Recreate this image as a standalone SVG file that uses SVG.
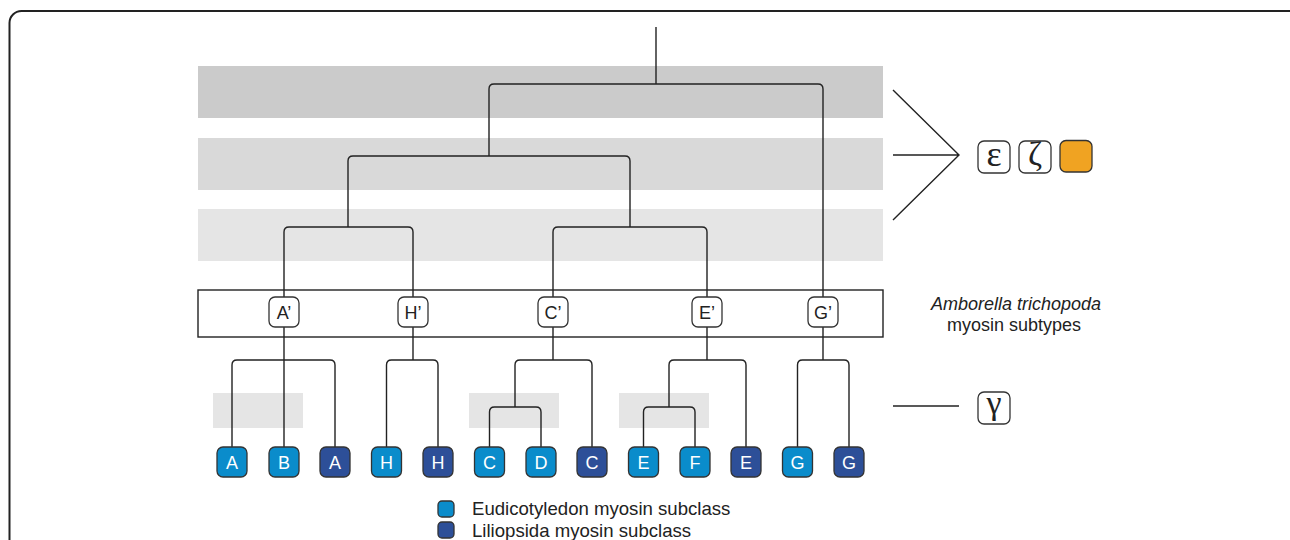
<svg xmlns="http://www.w3.org/2000/svg" width="1290" height="540" viewBox="0 0 1290 540">
<style>
.t{font-family:"Liberation Sans",Arial,sans-serif;}
.ln{fill:none;stroke:#222;stroke-width:1.4;}
.sub{fill:#fff;stroke:#333;stroke-width:1.3;}
.lb{fill:#0a8ccb;stroke:#333;stroke-width:1.3;}
.db{fill:#2d4f98;stroke:#333;stroke-width:1.3;}
.lt{font-family:"Liberation Sans",Arial,sans-serif;font-size:18px;fill:#fff;text-anchor:middle;}
.st{font-family:"Liberation Sans",Arial,sans-serif;font-size:18px;fill:#222;text-anchor:middle;}
.gk{font-family:"Liberation Serif","Times New Roman",serif;fill:#222;text-anchor:middle;}
</style>
<rect x="0" y="0" width="1290" height="540" fill="#fff"/>
<rect x="9.5" y="11" width="1292" height="570" rx="12" fill="none" stroke="#222" stroke-width="2"/>
<g id="bands">
<rect x="198" y="66" width="685" height="52" fill="#cbcbcb"/>
<rect x="198" y="138" width="685" height="52" fill="#d9d9d9"/>
<rect x="198" y="209" width="685" height="52" fill="#e5e5e5"/>
<rect x="213" y="393" width="90" height="35" fill="#e5e5e5"/>
<rect x="469" y="393" width="90" height="35" fill="#e5e5e5"/>
<rect x="619" y="393" width="90" height="35" fill="#e5e5e5"/>
</g>
<rect id="subtype-box" x="198" y="290" width="685" height="47" fill="none" stroke="#222" stroke-width="1.4"/>
<g id="connectors">
<path class="ln" d="M656 27 V84"/>
<path class="ln" d="M489 156 V89 Q489 84 494 84 H818 Q823 84 823 89 V297"/>
<path class="ln" d="M348 227 V161 Q348 156 353 156 H625 Q630 156 630 161 V227"/>
<path class="ln" d="M284 297 V232 Q284 227 289 227 H408 Q413 227 413 232 V297"/>
<path class="ln" d="M553 297 V232 Q553 227 558 227 H702 Q707 227 707 232 V297"/>
<path class="ln" d="M284 327 V447"/>
<path class="ln" d="M232 447 V365 Q232 360 237 360 H330 Q335 360 335 365 V447"/>
<path class="ln" d="M413 327 V360"/>
<path class="ln" d="M386.5 447 V365 Q386.5 360 391.5 360 H433 Q438 360 438 365 V447"/>
<path class="ln" d="M553 327 V360"/>
<path class="ln" d="M515 407 V365 Q515 360 520 360 H587 Q592 360 592 365 V447"/>
<path class="ln" d="M489.5 447 V412 Q489.5 407 494.5 407 H536 Q541 407 541 412 V447"/>
<path class="ln" d="M707 327 V360"/>
<path class="ln" d="M669 407 V365 Q669 360 674 360 H741 Q746 360 746 365 V447"/>
<path class="ln" d="M643.5 447 V412 Q643.5 407 648.5 407 H690 Q695 407 695 412 V447"/>
<path class="ln" d="M823 327 V360"/>
<path class="ln" d="M797.5 447 V365 Q797.5 360 802.5 360 H844 Q849 360 849 365 V447"/>
<path class="ln" d="M893 90 L959 155 L893 220 M893 155 H959"/>
<path class="ln" d="M893 406 H959"/>
</g>
<g id="node-A1"><rect class="sub" x="269" y="297" width="30" height="30" rx="6"/><text class="st" x="284" y="318.5">A’</text></g>
<g id="node-H1"><rect class="sub" x="398" y="297" width="30" height="30" rx="6"/><text class="st" x="413" y="318.5">H’</text></g>
<g id="node-C1"><rect class="sub" x="538" y="297" width="30" height="30" rx="6"/><text class="st" x="553" y="318.5">C’</text></g>
<g id="node-E1"><rect class="sub" x="692" y="297" width="30" height="30" rx="6"/><text class="st" x="707" y="318.5">E’</text></g>
<g id="node-G1"><rect class="sub" x="808" y="297" width="30" height="30" rx="6"/><text class="st" x="823" y="318.5">G’</text></g>
<g id="leaf-A-eu"><rect class="lb" x="217" y="447" width="30" height="30" rx="6"/><text class="lt" x="232" y="468.5">A</text></g>
<g id="leaf-B-eu"><rect class="lb" x="269" y="447" width="30" height="30" rx="6"/><text class="lt" x="284" y="468.5">B</text></g>
<g id="leaf-A-li"><rect class="db" x="320" y="447" width="30" height="30" rx="6"/><text class="lt" x="335" y="468.5">A</text></g>
<g id="leaf-H-eu"><rect class="lb" x="371.5" y="447" width="30" height="30" rx="6"/><text class="lt" x="386.5" y="468.5">H</text></g>
<g id="leaf-H-li"><rect class="db" x="423" y="447" width="30" height="30" rx="6"/><text class="lt" x="438" y="468.5">H</text></g>
<g id="leaf-C-eu"><rect class="lb" x="474.5" y="447" width="30" height="30" rx="6"/><text class="lt" x="489.5" y="468.5">C</text></g>
<g id="leaf-D-eu"><rect class="lb" x="526" y="447" width="30" height="30" rx="6"/><text class="lt" x="541" y="468.5">D</text></g>
<g id="leaf-C-li"><rect class="db" x="577" y="447" width="30" height="30" rx="6"/><text class="lt" x="592" y="468.5">C</text></g>
<g id="leaf-E-eu"><rect class="lb" x="628.5" y="447" width="30" height="30" rx="6"/><text class="lt" x="643.5" y="468.5">E</text></g>
<g id="leaf-F-eu"><rect class="lb" x="680" y="447" width="30" height="30" rx="6"/><text class="lt" x="695" y="468.5">F</text></g>
<g id="leaf-E-li"><rect class="db" x="731" y="447" width="30" height="30" rx="6"/><text class="lt" x="746" y="468.5">E</text></g>
<g id="leaf-G-eu"><rect class="lb" x="782.5" y="447" width="30" height="30" rx="6"/><text class="lt" x="797.5" y="468.5">G</text></g>
<g id="leaf-G-li"><rect class="db" x="834" y="447" width="30" height="30" rx="6"/><text class="lt" x="849" y="468.5">G</text></g>
<g id="label-amborella">
<text class="t" x="1016" y="310" font-size="18" font-style="italic" fill="#222" text-anchor="middle">Amborella trichopoda</text>
<text class="t" x="1014" y="331" font-size="18" fill="#222" text-anchor="middle">myosin subtypes</text>
</g>
<g id="greek-epsilon"><rect class="sub" x="978" y="141" width="32" height="32" rx="6"/><text class="gk" x="994" y="166" font-size="36">ε</text></g>
<g id="greek-zeta"><rect class="sub" x="1019" y="141" width="32" height="32" rx="6"/><text class="gk" x="1035" y="165" font-size="34">ζ</text></g>
<g id="orange-box"><rect x="1060" y="140.5" width="32" height="31.5" rx="6" fill="#f0a322" stroke="#333" stroke-width="1.3"/></g>
<g id="greek-gamma"><rect class="sub" x="978" y="392" width="32" height="32" rx="6"/><text class="gk" x="994" y="414" font-size="34">γ</text></g>
<g id="legend">
<rect class="lb" x="438" y="501" width="16" height="16" rx="4"/>
<rect class="db" x="438" y="522" width="16" height="16" rx="4"/>
<text class="t" x="472" y="515" font-size="18.6" fill="#222">Eudicotyledon myosin subclass</text>
<text class="t" x="472" y="537" font-size="18.6" fill="#222">Liliopsida myosin subclass</text>
</g>
</svg>
